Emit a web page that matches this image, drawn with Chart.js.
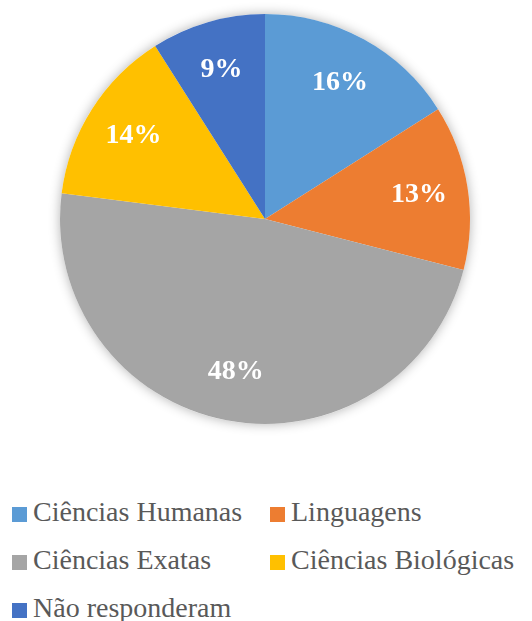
<!DOCTYPE html>
<html>
<head>
<meta charset="utf-8">
<script src="https://cdn.jsdelivr.net/npm/chart.js@4/dist/chart.umd.min.js"></script>
<style>
    body { margin: 0; background: #fff; }
    #wrap { position: absolute; left: 0; top: 0; width: 532px; height: 438px; }
    #legend { position: absolute; left: 12px; top: 488px; font-family: 'Liberation Serif', serif; font-size: 28px; color: #595959; }
    .item { position: absolute; height: 48px; line-height: 48px; white-space: nowrap; }
    .box { display: inline-block; width: 15px; height: 15px; margin-right: 6px; vertical-align: -1px; }
</style>
</head>
<body>
<div id="wrap"><canvas id="pie"></canvas></div>
<div id="legend"></div>
<script>
const labels = ['Ciências Humanas', 'Linguagens', 'Ciências Exatas', 'Ciências Biológicas', 'Não responderam'];
const values = [16, 13, 48, 14, 9];
const colors = ['#5B9BD5', '#ED7D31', '#A5A5A5', '#FFC000', '#4472C4'];

Chart.defaults.font.family = "'Liberation Serif', serif";

// sombra leve por trás da pizza
const shadowPlugin = {
    id: 'shadow',
    beforeDatasetsDraw(chart) {
        const arc = chart.getDatasetMeta(0).data[0];
        if (!arc) return;
        const ctx = chart.ctx;
        ctx.save();
        ctx.shadowColor = 'rgba(0,0,0,0.3)';
        ctx.shadowBlur = 12;
        ctx.fillStyle = '#fff';
        ctx.beginPath();
        ctx.arc(arc.x, arc.y, arc.outerRadius, 0, Math.PI * 2);
        ctx.fill();
        ctx.restore();
    }
};

// rótulos de porcentagem dentro das fatias
const labelPlugin = {
    id: 'pctLabels',
    afterDatasetsDraw(chart) {
        const ctx = chart.ctx;
        const total = values.reduce((a, b) => a + b, 0);
        ctx.save();
        ctx.font = "bold 28px 'Liberation Serif', serif";
        ctx.fillStyle = '#fff';
        ctx.textAlign = 'center';
        ctx.textBaseline = 'middle';
        chart.getDatasetMeta(0).data.forEach((arc, i) => {
            const mid = (arc.startAngle + arc.endAngle) / 2;
            const r = arc.outerRadius * 0.76;
            const x = arc.x + Math.cos(mid) * r;
            const y = arc.y + Math.sin(mid) * r;
            ctx.fillText(Math.round(values[i] / total * 100) + '%', x, y);
        });
        ctx.restore();
    }
};

new Chart(document.getElementById('pie').getContext('2d'), {
    type: 'pie',
    data: {
        labels: labels,
        datasets: [{
            data: values,
            backgroundColor: colors,
            borderWidth: 0
        }]
    },
    options: {
        responsive: true,
        maintainAspectRatio: false,
        animation: false,
        layout: { padding: { top: 14, bottom: 14, left: 0, right: 2 } },
        plugins: {
            legend: { display: false },
            tooltip: { enabled: false }
        }
    },
    plugins: [shadowPlugin, labelPlugin]
});

// legenda em HTML, duas colunas como no original
const legend = document.getElementById('legend');
labels.forEach((name, i) => {
    const item = document.createElement('div');
    item.className = 'item';
    item.style.left = (i % 2) * 258 + 'px';
    item.style.top = Math.floor(i / 2) * 48 + 'px';
    item.innerHTML = '<span class="box" style="background:' + colors[i] + '"></span>' + name;
    legend.appendChild(item);
});
</script>
</body>
</html>
